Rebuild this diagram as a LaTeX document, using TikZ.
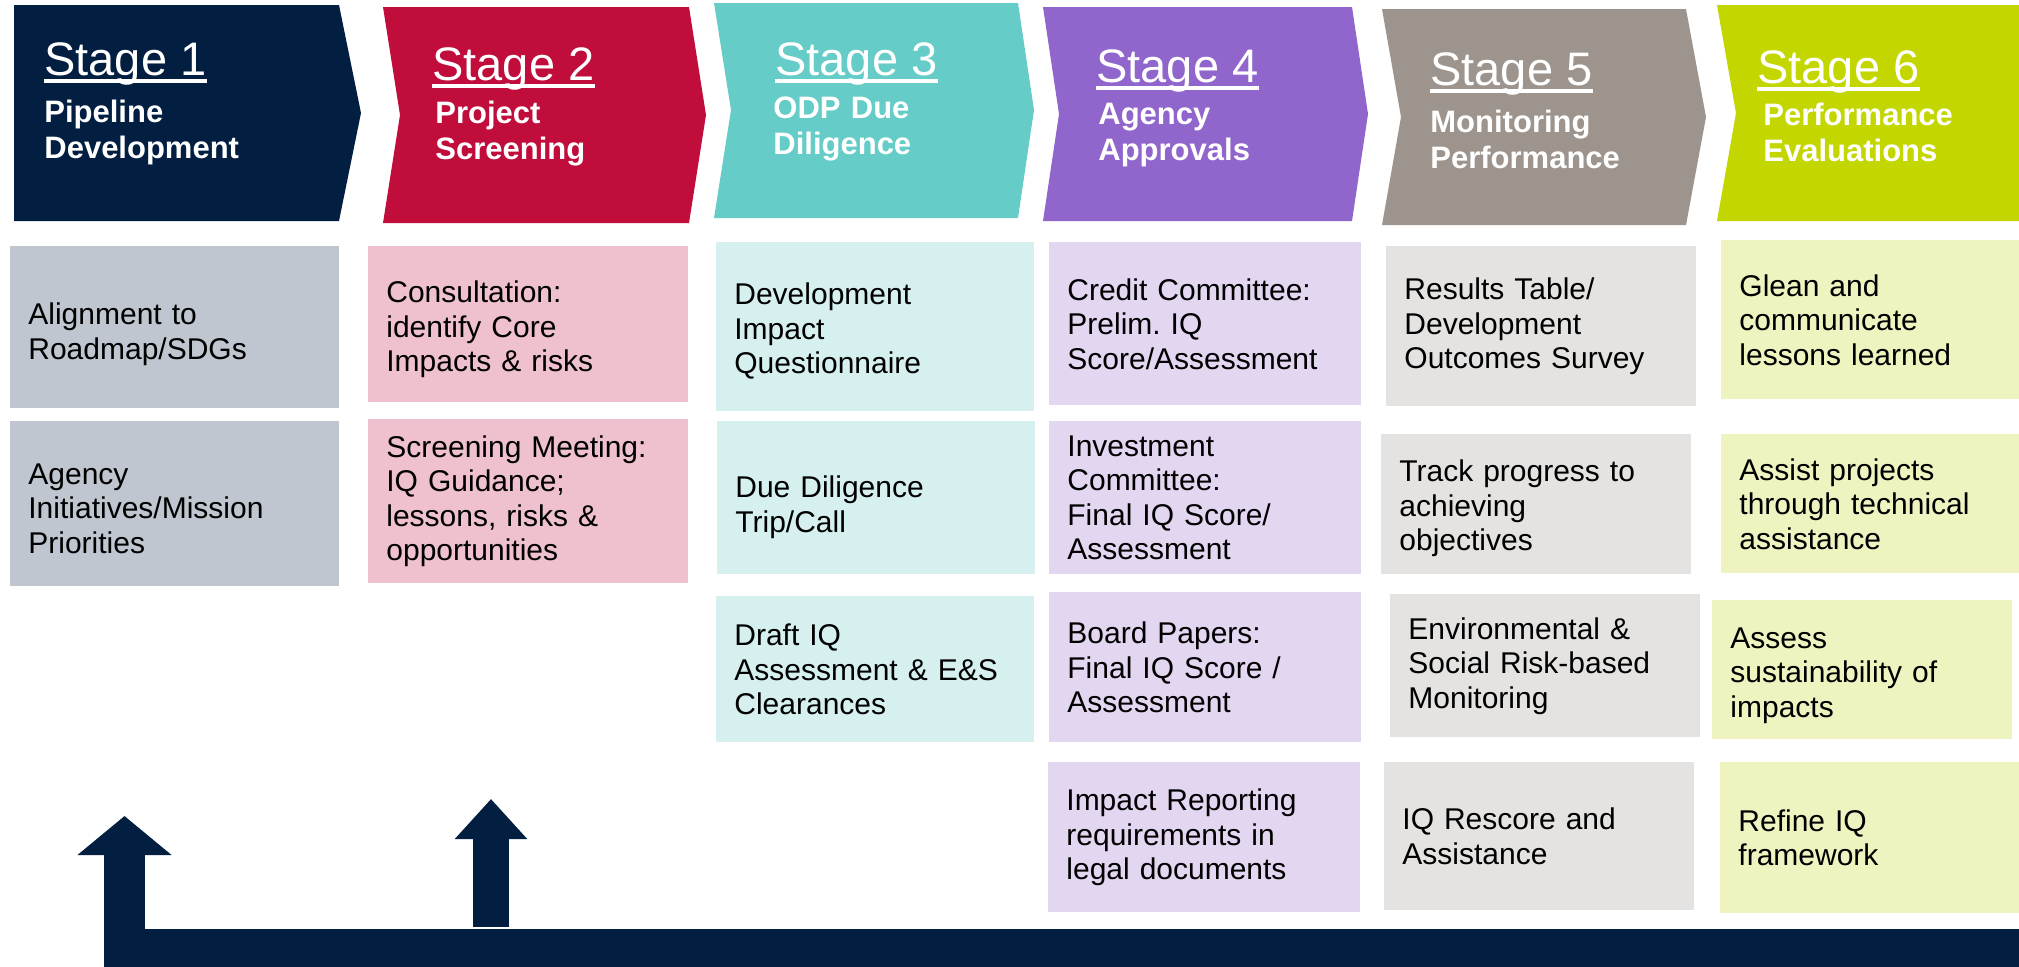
\documentclass[tikz,border=0pt]{standalone}
\usepackage{fontspec}
\setmainfont{Liberation Sans}
\usetikzlibrary{shapes, arrows.meta}

\definecolor{navy}{RGB}{2,31,66}
\definecolor{crimson}{RGB}{192,13,60}
\definecolor{teal}{RGB}{102,204,200}
\definecolor{violet}{RGB}{144,102,204}
\definecolor{taupe}{RGB}{157,148,142}
\definecolor{lime}{RGB}{195,214,0}
\definecolor{fillA}{RGB}{191,198,207}
\definecolor{fillB}{RGB}{239,193,206}
\definecolor{fillC}{RGB}{214,240,240}
\definecolor{fillD}{RGB}{227,214,241}
\definecolor{fillE}{RGB}{228,227,225}
\definecolor{fillF}{RGB}{238,243,192}

\begin{document}
\begin{tikzpicture}[x=0.5pt, y=-0.5pt]
    \tikzstyle{stagetitle} = [anchor=base west, inner sep=0pt, text=white, font=\fontsize{23.5}{28}\selectfont]
    \tikzstyle{stagesub} = [anchor=base west, inner sep=0pt, text=white, text width=4cm, align=left, font=\bfseries\fontsize{15.5}{18}\selectfont]
    \tikzstyle{stageline} = [white, line width=2pt]
    \tikzstyle{box} = [rectangle, anchor=north west, inner xsep=9pt, inner ysep=0pt, align=left, font=\fontsize{15}{17.25}\selectfont]
    \tikzstyle{boxA} = [box, fill=fillA, text width=146.5pt]
    \tikzstyle{boxB} = [box, fill=fillB, text width=142pt]
    \tikzstyle{boxC} = [box, fill=fillC, text width=141pt]
    \tikzstyle{boxD} = [box, fill=fillD, text width=138pt]
    \tikzstyle{boxE} = [box, fill=fillE, text width=137pt]
    \tikzstyle{boxF} = [box, fill=fillF, text width=132pt]
    \tikzset{textlow/.style={execute at begin node={\rule{0pt}{#1}}}}
    \tikzstyle{feedback} = [navy, line width=20.5pt, -{Triangle[width=46pt, length=19.5pt]}]
    \tikzstyle{feedbacksmall} = [navy, line width=18pt, -{Triangle[width=35pt, length=20pt]}]

    \useasboundingbox (0,0) rectangle (2019,966);
    \fill[white] (0,0) rectangle (2019,966);

    % Stages
    \fill[navy] (14,5) -- (339,5) -- (361,113) -- (339,221) -- (14,221) -- cycle;
    \fill[crimson] (383,7) -- (689,7) -- (706,115) -- (689,223) -- (383,223) -- (400,115) -- cycle;
    \fill[teal] (714,3) -- (1018,3) -- (1034,110) -- (1018,218) -- (714,218) -- (731,110) -- cycle;
    \fill[violet] (1043,7) -- (1352,7) -- (1368,114) -- (1352,221) -- (1043,221) -- (1059,114) -- cycle;
    \fill[taupe] (1382,9) -- (1686,9) -- (1706,117) -- (1686,225) -- (1382,225) -- (1401,117) -- cycle;
    \fill[lime] (1717,5) -- (2030,5) -- (2030,221) -- (1717,221) -- (1736,113) -- cycle;

    \node (t1) [stagetitle] at (44,75) {Stage 1};
    \node (t2) [stagetitle] at (432,80) {Stage 2};
    \node (t3) [stagetitle] at (775,75) {Stage 3};
    \node (t4) [stagetitle] at (1096,82) {Stage 4};
    \node (t5) [stagetitle] at (1430,85) {Stage 5};
    \node (t6) [stagetitle] at (1757,83) {Stage 6};

    \node (p1) [stagesub] at ([yshift=-23.5pt]t1.base west) {Pipeline\\Development};
    \node (p2) [stagesub] at ([xshift=1.5pt, yshift=-21.5pt]t2.base west) {Project\\Screening};
    \node (p3) [stagesub] at ([xshift=-1pt, yshift=-21.5pt]t3.base west) {ODP Due\\Diligence};
    \node (p4) [stagesub] at ([xshift=1pt, yshift=-21pt]t4.base west) {Agency\\Approvals};
    \node (p5) [stagesub] at ([yshift=-23.5pt]t5.base west) {Monitoring\\Performance};
    \node (p6) [stagesub] at ([xshift=3pt, yshift=-21pt]t6.base west) {Performance\\Evaluations};

    \draw[stageline] ([yshift=-3pt]t1.base west) -- ([yshift=-3pt]t1.base east);
    \draw[stageline] ([yshift=-3pt]t2.base west) -- ([yshift=-3pt]t2.base east);
    \draw[stageline] ([yshift=-3pt]t3.base west) -- ([yshift=-3pt]t3.base east);
    \draw[stageline] ([yshift=-3pt]t4.base west) -- ([yshift=-3pt]t4.base east);
    \draw[stageline] ([yshift=-3pt]t5.base west) -- ([yshift=-3pt]t5.base east);
    \draw[stageline] ([yshift=-3pt]t6.base west) -- ([yshift=-3pt]t6.base east);

    % Activities
    \node (b11) [boxA, textlow=17.5pt, minimum height=81pt] at (10,246) {Alignment to\\Roadmap/SDGs};
    \node (b12) [boxA, textlow=15pt, minimum height=82.5pt] at (10,421) {Agency\\Initiatives/Mission\\Priorities};

    \node (b21) [boxB, textlow=16pt, minimum height=78pt] at (368,246) {Consultation:\\identify Core\\Impacts \& risks};
    \node (b22) [boxB, minimum height=82pt] at (368,419) {Screening Meeting:\\IQ Guidance;\\lessons, risks \&\\opportunities};

    \node (b31) [boxC, textlow=15pt, minimum height=84.5pt] at (716,242) {Development\\Impact\\Questionnaire};
    \node (b32) [boxC, textlow=20pt, minimum height=76.5pt] at (717,421) {Due Diligence\\Trip/Call};
    \node (b33) [boxC, minimum height=73pt] at (716,596) {Draft IQ\\Assessment \& E\&S\\Clearances};

    \node (b41) [boxD, minimum height=81.5pt] at (1049,242) {Credit Committee:\\Prelim.\ IQ\\Score/Assessment};
    \node (b42) [boxD, minimum height=76.5pt] at (1049,421) {Investment\\Committee:\\Final IQ Score/\\Assessment};
    \node (b43) [boxD, minimum height=75pt] at (1049,592) {Board Papers:\\Final IQ Score /\\Assessment};
    \node (b44) [boxD, minimum height=75pt] at (1048,762) {Impact Reporting\\requirements in\\legal documents};

    \node (b51) [boxE, minimum height=80pt] at (1386,246) {Results Table/\\Development\\Outcomes Survey};
    \node (b52) [boxE, textlow=15pt, minimum height=70pt] at (1381,434) {Track progress to\\achieving\\objectives};
    \node (b53) [boxE, minimum height=71.5pt] at (1390,594) {Environmental \&\\Social Risk-based\\Monitoring};
    \node (b54) [boxE, minimum height=74pt] at (1384,762) {IQ Rescore and\\Assistance};

    \node (b61) [boxF, minimum height=79.5pt] at (1721,240) {Glean and\\communicate\\lessons learned};
    \node (b62) [boxF, minimum height=69.5pt] at (1721,434) {Assist projects\\through technical\\assistance};
    \node (b63) [boxF, textlow=16pt, minimum height=69.5pt] at (1712,600) {Assess\\sustainability of\\impacts};
    \node (b64) [boxF, minimum height=75.5pt] at (1720,762) {Refine IQ\\framework};

    % Arrows
    \coordinate (barend) at (2040,949.5);
    \coordinate (up1) at (124.5,816);
    \coordinate (up2foot) at (491,927);
    \coordinate (up2) at (491,799);
    \draw[feedback] (barend) -| (up1);
    \draw[feedbacksmall] (up2foot) -- (up2);
\end{tikzpicture}
\end{document}
